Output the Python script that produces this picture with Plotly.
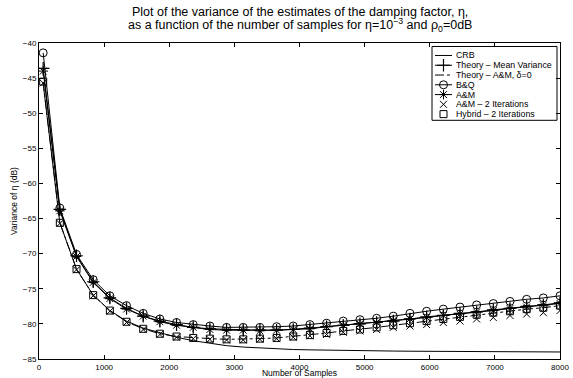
import plotly.graph_objects as go

N = [64 + 256 * k for k in range(32)]

crb = [-45.8, -65.6, -72.2, -75.9, -78.1, -79.6, -80.6, -81.3, -81.9, -82.4,
       -82.8, -83.1, -83.3, -83.45, -83.55, -83.65, -83.7, -83.75, -83.8, -83.82,
       -83.85, -83.87, -83.89, -83.9, -83.92, -83.93, -83.94, -83.95, -83.96, -83.97,
       -83.98, -84.0]

theory_mean = [-43.6, -63.7, -70.3, -74.0, -76.3, -77.8, -78.9, -79.6, -80.1, -80.5,
               -80.7, -80.8, -80.9, -80.9, -80.9, -80.8, -80.6, -80.4, -80.2, -80.0,
               -79.8, -79.6, -79.3, -79.0, -78.8, -78.5, -78.3, -78.0, -77.8, -77.5,
               -77.3, -77.0]

theory_am = [-45.6, -65.6, -72.2, -75.9, -78.1, -79.7, -80.7, -81.4, -81.8, -82.0,
             -82.1, -82.2, -82.2, -82.1, -82.0, -81.8, -81.6, -81.3, -81.0, -80.8,
             -80.5, -80.2, -79.9, -79.6, -79.3, -79.0, -78.7, -78.5, -78.2, -77.9,
             -77.7, -77.4]

bq = [-41.4, -63.5, -70.1, -73.7, -76.0, -77.4, -78.5, -79.3, -79.8, -80.1,
      -80.3, -80.5, -80.5, -80.5, -80.4, -80.3, -80.1, -79.9, -79.6, -79.4,
      -79.2, -78.9, -78.5, -78.2, -77.9, -77.6, -77.3, -77.1, -76.8, -76.5,
      -76.3, -76.0]

am = [-44.0, -63.9, -70.4, -74.1, -76.4, -77.9, -78.9, -79.7, -80.2, -80.5,
      -80.8, -80.9, -80.9, -81.0, -80.9, -80.8, -80.7, -80.4, -80.2, -80.0,
      -79.8, -79.5, -79.3, -79.1, -78.8, -78.6, -78.3, -78.1, -77.8, -77.6,
      -77.3, -77.1]

am2 = [-45.7, -65.7, -72.3, -76.0, -78.2, -79.8, -80.8, -81.5, -81.9, -82.1,
       -82.2, -82.3, -82.3, -82.2, -82.1, -81.9, -81.7, -81.5, -81.2, -81.0,
       -80.8, -80.5, -80.3, -80.1, -79.8, -79.6, -79.3, -79.1, -78.8, -78.6,
       -78.4, -78.1]

hybrid = [-45.5, -65.6, -72.2, -75.9, -78.1, -79.7, -80.7, -81.4, -81.8, -82.0,
          -82.1, -82.2, -82.2, -82.1, -82.0, -81.8, -81.6, -81.3, -81.0, -80.8,
          -80.5, -80.2, -79.9, -79.6, -79.3, -79.0, -78.7, -78.4, -78.2, -77.9,
          -77.7, -77.4]

x_ticks = [0, 1000, 2000, 3000, 4000, 5000, 6000, 7000, 8000]
y_ticks = list(range(-85, -39, 5))

legend_names = ["CRB", "Theory \u2013 Mean Variance", "Theory \u2013 A&M, \u03b4=0", "B&Q",
                "A&M", "A&M \u2013 2 Iterations", "Hybrid \u2013 2 Iterations"]

FONT = "Liberation Sans, Arial, Helvetica, sans-serif"
BLK = "black"

W, H = 573, 378
# plot area in page pixels
L, R, T, B = 39, 560, 42.5, 359.3

styles = [
    dict(mode="lines", line=dict(color=BLK, width=1), marker=None),
    dict(mode="lines+markers", line=dict(color=BLK, width=1),
         marker=dict(symbol="cross-thin-open", size=9, color=BLK, line=dict(color=BLK, width=1.2))),
    dict(mode="lines", line=dict(color=BLK, width=1, dash="dashdot"), marker=None),
    dict(mode="lines+markers", line=dict(color=BLK, width=1),
         marker=dict(symbol="circle-open", size=8, color=BLK, line=dict(color=BLK, width=1))),
    dict(mode="lines+markers", line=dict(color=BLK, width=1),
         marker=dict(symbol="asterisk-open", size=8, color=BLK, line=dict(color=BLK, width=1))),
    dict(mode="markers", line=None,
         marker=dict(symbol="x-thin-open", size=7, color=BLK, line=dict(color=BLK, width=1))),
    dict(mode="markers", line=None,
         marker=dict(symbol="square-open", size=7, color=BLK, line=dict(color=BLK, width=1))),
]
series = [crb, theory_mean, theory_am, bq, am, am2, hybrid]

fig = go.Figure()
for name, ys, st in zip(legend_names, series, styles):
    kw = dict(x=N, y=ys, name=name, mode=st["mode"], showlegend=False)
    if st["line"] is not None:
        kw["line"] = st["line"]
    if st["marker"] is not None:
        kw["marker"] = st["marker"]
    fig.add_trace(go.Scatter(**kw))

# ---- compact MATLAB-style legend on a pixel-mapped overlay axis ----
box_l, box_r, box_t, box_b = 432, 557, 46, 120
row0, drow = 55, 9.8
seg_l, seg_r, mark_x, text_x = 435, 452, 443.5, 454

fig.add_shape(type="rect", xref="x2", yref="y2", x0=box_l, x1=box_r, y0=box_t, y1=box_b,
              line=dict(color=BLK, width=1), fillcolor="white", layer="below")
for i, (name, st) in enumerate(zip(legend_names, styles)):
    yy = row0 + i * drow
    if st["line"] is not None:
        fig.add_shape(type="line", xref="x2", yref="y2", x0=seg_l, x1=seg_r, y0=yy, y1=yy,
                      line=dict(color=BLK, width=1, dash=st["line"].get("dash", "solid")),
                      layer="above")
    if st["marker"] is not None:
        fig.add_trace(go.Scatter(x=[mark_x], y=[yy], xaxis="x2", yaxis="y2", mode="markers",
                                 marker=st["marker"], showlegend=False, hoverinfo="skip"))
    fig.add_annotation(x=text_x, y=yy, xref="x2", yref="y2", text=name, showarrow=False,
                       xanchor="left", yanchor="middle", font=dict(family=FONT, size=8.8, color=BLK))

axis_common = dict(showgrid=False, zeroline=False, showline=True, linecolor=BLK, linewidth=1,
                   mirror="ticks", ticks="inside", ticklen=4, tickcolor=BLK, automargin=False,
                   tickfont=dict(family=FONT, size=8, color=BLK))

def py(p):
    return (B - p) / (B - T)

fig.add_annotation(x=0.5, y=py(11.5), xref="paper", yref="paper", showarrow=False,
                   xanchor="center", yanchor="middle",
                   text="Plot of the variance of the estimates of the damping factor, \u03b7,",
                   font=dict(family=FONT, size=12.5, color=BLK))
fig.add_annotation(x=0.5, y=py(24), xref="paper", yref="paper", showarrow=False,
                   xanchor="center", yanchor="middle",
                   text="as a function of the number of samples for \u03b7=10<sup>\u22123</sup> and \u03c1<sub>0</sub>=0dB",
                   font=dict(family=FONT, size=12.5, color=BLK))

fig.update_layout(
    width=W, height=H,
    margin=dict(l=L, r=W - R, t=T, b=H - B, pad=0),
    paper_bgcolor="white", plot_bgcolor="white",
    font=dict(family=FONT, color=BLK),
    showlegend=False,
    hovermode=False,
    xaxis=dict(range=[0, 8000], tickmode="array", tickvals=x_ticks,
               title=dict(text="Number of Samples", font=dict(family=FONT, size=8.5, color=BLK), standoff=1),
               **axis_common),
    yaxis=dict(range=[-85, -40], tickmode="array", tickvals=y_ticks,
               title=dict(text="Variance of \u03b7 (dB)", font=dict(family=FONT, size=8.5, color=BLK), standoff=3),
               **axis_common),
    xaxis2=dict(range=[L, R], overlaying="x", visible=False, fixedrange=True),
    yaxis2=dict(range=[B, T], overlaying="y", visible=False, fixedrange=True),
)

fig.write_html("out.html",
               config={"displayModeBar": False, "staticPlot": True},
               post_script="document.body.style.margin='0px';document.body.style.padding='0px';")
